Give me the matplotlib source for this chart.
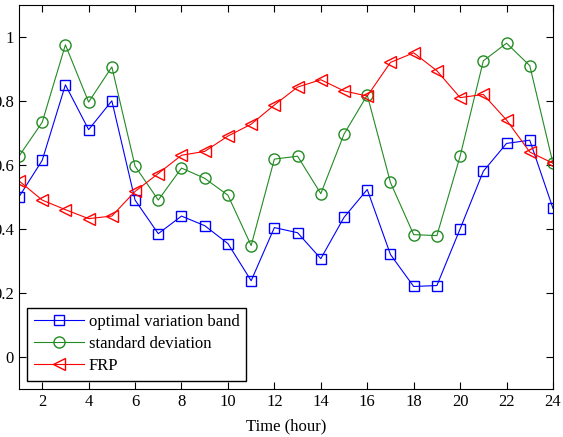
import matplotlib.pyplot as plt

plt.rcParams['font.family'] = ['Liberation Serif', 'DejaVu Serif']

hours = list(range(1, 25))
band = [0.50, 0.614, 0.85, 0.71, 0.80, 0.49, 0.385, 0.44, 0.41, 0.354, 0.238, 0.404,
        0.388, 0.307, 0.436, 0.523, 0.32, 0.22, 0.223, 0.40, 0.58, 0.667, 0.677, 0.464]
std = [0.627, 0.733, 0.975, 0.796, 0.906, 0.596, 0.49, 0.59, 0.558, 0.505, 0.348, 0.618,
       0.627, 0.51, 0.696, 0.818, 0.545, 0.382, 0.379, 0.627, 0.925, 0.98, 0.91, 0.605]
frp = [0.55, 0.49, 0.46, 0.432, 0.44, 0.517, 0.573, 0.63, 0.642, 0.69, 0.727, 0.787,
       0.843, 0.866, 0.831, 0.815, 0.92, 0.95, 0.894, 0.81, 0.82, 0.74, 0.64, 0.605]

fig = plt.figure(figsize=(5.63, 4.37), dpi=100)
ax = fig.add_axes([0.0337, 0.11, 0.9485, 0.879])

ax.plot(hours, band, color='blue', marker='s', ms=7, mfc='none', lw=0.8, label='optimal variation band')
ax.plot(hours, std, color='#228b22', marker='o', ms=8, mfc='none', lw=0.8, label='standard deviation')
ax.plot(hours, frp, color='red', marker='<', ms=8, mfc='none', lw=0.8, label='FRP')

ax.set_xlim(1, 24)
ax.set_ylim(-0.1, 1.1)
ax.set_xticks(range(2, 25, 2))
ax.set_yticks([0, 0.2, 0.4, 0.6, 0.8, 1])
ax.set_yticklabels(['0', '0.2', '0.4', '0.6', '0.8', '1'])
ax.tick_params(direction='in', top=True, right=True, labelsize=12, length=5)
ax.set_xlabel('Time (hour)', fontsize=12, labelpad=6)

leg = ax.legend(loc='lower left', fontsize=12, handlelength=3.0, handletextpad=0.3,
                labelspacing=0.35, fancybox=False, edgecolor='black', framealpha=1,
                borderaxespad=0.5)
leg.get_frame().set_linewidth(1.0)

fig.savefig('out.png', dpi=100)
